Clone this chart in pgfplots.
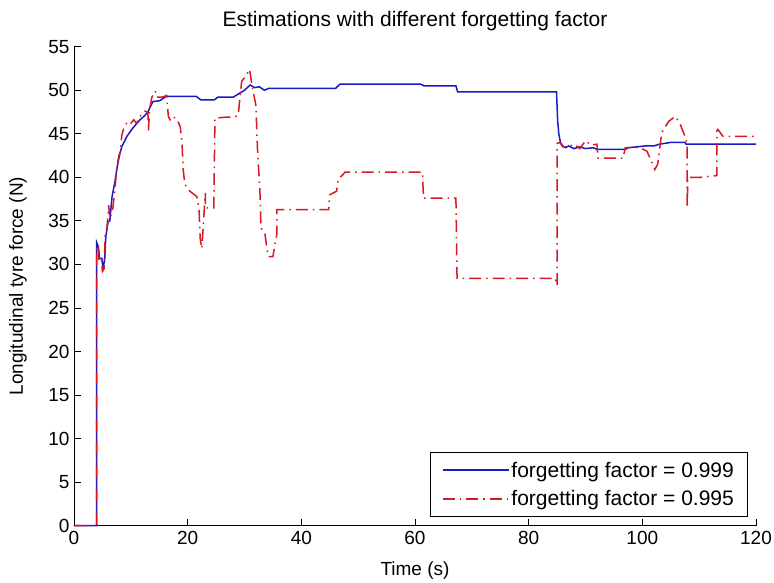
\documentclass[border=0pt]{standalone}
\usepackage{pgfplots}
\pgfplotsset{compat=1.18}
\usepackage{fontspec}
\setmainfont{Liberation Sans}
\definecolor{mblue}{RGB}{25,25,200}
\definecolor{mred}{RGB}{215,25,35}
\begin{document}
\begin{tikzpicture}
\begin{axis}[
  name=ax,
  scale only axis,
  width=682pt, height=479pt,
  xmin=0, xmax=120, ymin=0, ymax=55,
  xtick={0,20,...,120}, ytick={0,5,...,55},
  axis lines=left,
  axis line style={-, line width=0.9pt, black},
  tick align=inside,
  major tick length=7pt,
  tick style={line width=0.9pt, black},
  clip=false,
  /pgf/number format/assume math mode=true,
  tick label style={font=\fontsize{19}{22}\selectfont},
  xticklabel style={yshift=-2pt},
  yticklabel style={xshift=-1pt},
  title={Estimations with different forgetting factor},
  title style={font=\fontsize{21}{25}\selectfont, at={(axis description cs:0.5,1)}, anchor=center, yshift=20pt},
  xlabel={Time (s)},
  xlabel style={font=\fontsize{19}{22}\selectfont, at={(axis description cs:0.5,0)}, anchor=center, yshift=-45pt},
  ylabel={Longitudinal tyre force (N)},
  ylabel style={font=\fontsize{19}{22}\selectfont, at={(axis description cs:0,0.5)}, anchor=center, yshift=56pt},
  legend style={font=\fontsize{21}{25}\selectfont, at={(rel axis cs:1,0)}, anchor=south east,
    xshift=-7.7pt, yshift=9pt, draw=black, line width=0.9pt, inner xsep=12pt, inner ysep=7pt,
    row sep=8pt, cells={anchor=west}},
  legend image code/.code={\draw[#1] (0pt,0pt) -- (66pt,0pt);},
]
\addplot[mblue, line width=1.5pt] coordinates {
(0,0) (4.0,0) (4.0,32.5) (4.3,32.0) (4.5,30.7) (4.9,30.7) (5.1,29.6) (5.4,30.5) (5.6,33.2) (6.0,34.9) (6.3,35.0) (6.7,37.8) (7.2,39.5) (7.6,41.2) (8.0,42.5) (8.4,43.5) (9.3,44.7) (10.4,45.7) (11.6,46.6) (12.3,47.0) (13.0,47.5) (13.5,48.2) (13.9,48.7) (15.1,48.8) (16.2,49.3) (21.5,49.3) (22.3,48.9) (24.7,48.9) (25.3,49.2) (28.0,49.2) (29.0,49.6) (30.0,50.0) (31.0,50.6) (31.8,50.3) (32.6,50.4) (33.5,50.0) (34.2,50.2) (46.0,50.2) (46.8,50.7) (61.0,50.7) (61.6,50.5) (67.2,50.5) (67.5,49.8) (84.9,49.8) (85.1,46.5) (85.3,45.0) (85.6,44.0) (86.0,43.6) (86.5,43.4) (87.0,43.6) (88.0,43.3) (89.0,43.5) (90.0,43.3) (91.4,43.4) (92.0,43.2) (97.0,43.2) (97.5,43.4) (99.0,43.5) (100.5,43.6) (102.0,43.6) (103.0,43.8) (104.9,44.0) (107.5,44.0) (107.7,43.8) (120,43.8)
};
\addlegendentry{forgetting factor = 0.999}
\addplot[mred, line width=1.5pt, dash pattern=on 12pt off 5pt on 1.5pt off 5pt] coordinates {
(0,0) (4.0,0) (4.0,31.8) (4.2,32.2) (4.4,30.6) (4.8,30.8) (5.0,29.2) (5.3,29.5) (5.5,33.5) (5.8,34.2) (6.1,36.8) (6.3,35.3) (6.6,35.8) (6.8,36.3) (7.2,38.5) (7.5,41.0) (7.9,42.5) (8.2,43.0) (8.4,44.8) (8.7,45.5) (9.0,46.0) (9.5,46.4) (10.0,46.2) (10.5,46.6) (11.0,46.2) (11.5,46.9) (12.0,47.3) (12.5,47.6) (13.0,47.5) (13.1,45.3) (13.3,47.8) (13.7,49.2) (14.3,49.9) (14.6,49.2) (15.5,49.2) (16.3,49.4) (16.6,47.0) (17.0,46.5) (17.5,46.9) (18.1,46.7) (18.7,45.8) (19.0,44.0) (19.2,41.0) (19.5,39.2) (20.4,38.4) (21.6,37.8) (22.0,36.4) (22.2,33.0) (22.5,31.8) (22.8,35.0) (23.1,38.2) (23.1,36.5) (24.6,36.5) (24.8,46.8) (26.6,46.9) (28.0,46.9) (28.9,47.1) (29.1,48.5) (29.5,51.0) (30.4,51.8) (30.9,52.4) (31.3,50.6) (32.0,48.3) (32.3,43.0) (32.7,38.7) (32.9,34.2) (33.3,33.8) (33.6,33.5) (33.9,32.0) (34.2,30.9) (35.0,30.9) (35.4,32.5) (35.7,33.5) (35.7,36.3) (44.8,36.3) (45.0,38.0) (46.2,38.4) (46.5,39.8) (47.3,40.3) (47.7,40.6) (61.3,40.6) (61.5,37.6) (67.2,37.6) (67.4,28.4) (84.7,28.4) (84.9,27.6) (85.0,27.6) (85.0,43.9) (85.5,44.0) (86.0,43.5) (87.0,43.5) (88.0,43.8) (89.0,43.3) (90.0,44.2) (91.0,43.7) (92.0,43.8) (92.2,42.2) (96.6,42.2) (97.0,43.4) (99.6,43.4) (100.8,43.0) (101.5,42.0) (102.2,40.9) (102.7,41.5) (103.1,43.5) (103.4,45.1) (104.6,46.4) (105.8,47.0) (106.6,46.2) (107.5,44.7) (107.9,43.8) (107.9,36.5) (108.0,40.0) (110.2,40.0) (113.1,40.2) (113.1,45.3) (113.3,45.5) (114.2,44.7) (120,44.7)
};
\addlegendentry{forgetting factor = 0.995}
\coordinate (bl) at (rel axis cs:0,0);
\coordinate (tr) at (rel axis cs:1,1);
\end{axis}
\pgfresetboundingbox
\path ([xshift=-74pt,yshift=-57.3pt]bl) rectangle ([xshift=18pt,yshift=46.7pt]tr);
\end{tikzpicture}
\end{document}
